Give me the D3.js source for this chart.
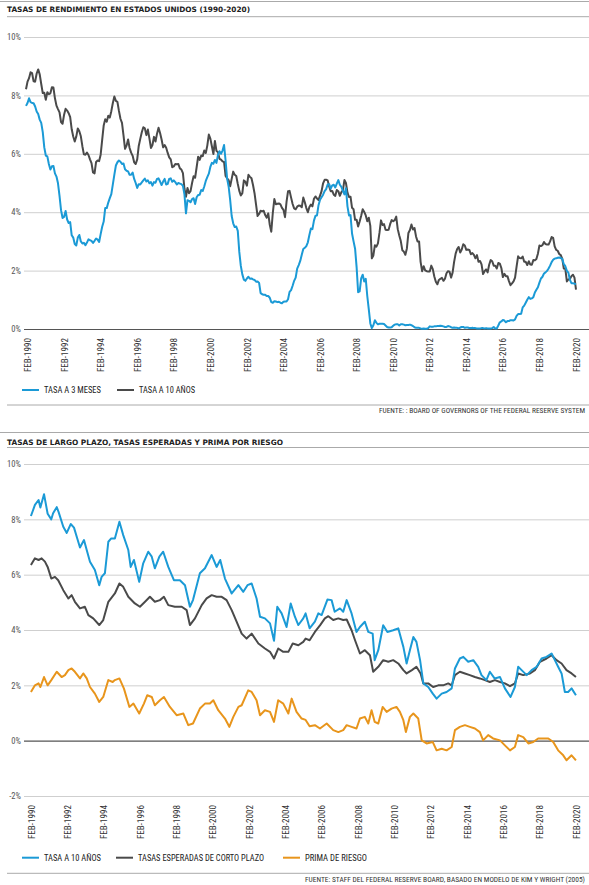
<!DOCTYPE html>
<html><head><meta charset="utf-8">
<script src="https://cdn.jsdelivr.net/npm/d3@7"></script>
<style>
body{margin:0;background:#fff;}
svg text{font-family:"Liberation Sans Narrow","Roboto Condensed","DejaVu Sans Condensed","Arial Narrow",sans-serif;}
</style></head><body>
<svg id="c" width="589" height="885"></svg>
<script>
// ---------- DATA ----------
// Top chart: monthly values from Jan 1990 to Feb 2020
const topStartYear = 1990;
const bill3m = [
7.64,7.74,7.90,7.77,7.74,7.73,7.62,7.45,7.36,7.17,7.06,6.74,
6.22,5.94,5.91,5.65,5.46,5.57,5.58,5.33,5.22,4.99,4.56,4.07,
3.80,3.84,4.04,3.75,3.63,3.66,3.21,3.13,2.91,2.86,3.13,3.22,
3.00,2.93,2.95,2.87,2.96,3.07,3.04,3.02,2.95,3.02,3.10,3.06,
2.98,3.25,3.50,3.68,4.14,4.14,4.33,4.48,4.62,4.95,5.29,5.60,
5.71,5.77,5.73,5.65,5.67,5.47,5.42,5.40,5.28,5.28,5.36,5.14,
5.00,4.83,4.96,4.95,5.02,5.09,5.15,5.05,5.09,4.99,5.03,4.91,
5.03,5.01,5.14,5.16,5.05,4.93,5.05,5.14,4.95,4.97,5.14,5.16,
5.04,5.09,5.03,4.95,5.00,4.98,4.96,4.90,4.61,3.96,4.41,4.39,
4.34,4.45,4.48,4.28,4.51,4.59,4.60,4.76,4.73,4.88,5.07,5.20,
5.32,5.55,5.69,5.66,5.79,5.69,5.96,6.09,6.00,6.11,6.30,5.77,
5.15,4.88,4.42,3.87,3.62,3.49,3.51,3.36,2.64,2.16,1.87,1.69,
1.65,1.73,1.79,1.72,1.73,1.70,1.68,1.62,1.63,1.58,1.23,1.19,
1.17,1.17,1.13,1.13,1.07,0.92,0.90,0.95,0.94,0.92,0.93,0.90,
0.88,0.93,0.94,0.94,1.02,1.27,1.33,1.48,1.65,1.76,2.07,2.19,
2.33,2.54,2.74,2.78,2.84,2.97,3.22,3.44,3.42,3.71,3.88,3.89,
4.24,4.43,4.51,4.60,4.72,4.79,4.95,4.96,4.81,4.92,4.94,4.85,
4.98,5.10,4.94,4.87,4.73,4.61,4.82,4.20,3.89,3.90,3.27,3.00,
2.75,2.12,1.26,1.29,1.73,1.86,1.63,1.72,1.13,0.67,0.19,0.03,
0.13,0.30,0.21,0.16,0.18,0.18,0.18,0.17,0.12,0.07,0.05,0.05,
0.06,0.11,0.15,0.16,0.16,0.12,0.16,0.16,0.15,0.13,0.14,0.14,
0.15,0.13,0.10,0.06,0.04,0.04,0.04,0.02,0.01,0.02,0.01,0.01,
0.03,0.09,0.08,0.08,0.09,0.09,0.10,0.10,0.11,0.10,0.09,0.07,
0.07,0.10,0.09,0.06,0.04,0.05,0.04,0.04,0.02,0.05,0.07,0.07,
0.04,0.05,0.05,0.03,0.03,0.04,0.03,0.03,0.02,0.02,0.02,0.03,
0.03,0.02,0.03,0.02,0.02,0.02,0.03,0.07,0.02,0.02,0.12,0.23,
0.26,0.31,0.29,0.23,0.27,0.27,0.30,0.30,0.29,0.33,0.45,0.51,
0.51,0.52,0.74,0.80,0.90,1.00,1.09,1.03,1.05,1.09,1.25,1.34,
1.43,1.59,1.73,1.79,1.90,1.94,1.99,2.07,2.17,2.29,2.37,2.41,
2.42,2.44,2.45,2.43,2.40,2.22,2.15,1.99,1.93,1.68,1.57,1.57,
1.55,1.54
];
const note10y = [
8.21,8.47,8.59,8.79,8.76,8.48,8.47,8.75,8.89,8.72,8.39,8.08,
8.09,7.85,8.11,8.04,8.07,8.28,8.27,7.90,7.65,7.53,7.42,7.09,
7.03,7.34,7.54,7.48,7.39,7.26,6.84,6.59,6.42,6.59,6.87,6.77,
6.60,6.26,5.98,5.97,6.04,5.96,5.81,5.68,5.36,5.33,5.72,5.77,
5.75,5.97,6.48,6.97,7.18,7.10,7.30,7.24,7.46,7.74,7.96,7.81,
7.78,7.47,7.20,7.06,6.63,6.17,6.28,6.49,6.20,6.04,5.93,5.71,
5.65,5.81,6.27,6.51,6.74,6.91,6.87,6.64,6.83,6.53,6.20,6.30,
6.58,6.42,6.69,6.89,6.71,6.49,6.22,6.30,6.21,6.03,5.88,5.81,
5.54,5.57,5.65,5.64,5.65,5.50,5.46,5.34,4.81,4.53,4.83,4.65,
4.72,5.00,5.23,5.18,5.54,5.90,5.79,5.94,5.92,6.11,6.03,6.28,
6.66,6.52,6.26,5.99,6.44,6.10,6.05,5.83,5.80,5.74,5.72,5.24,
5.16,5.10,4.89,5.14,5.39,5.28,5.24,4.97,4.73,4.57,4.65,5.09,
5.04,4.91,5.28,5.21,5.16,4.93,4.65,4.26,3.87,3.94,4.05,4.03,
4.05,3.90,3.81,3.96,3.57,3.33,3.98,4.45,4.27,4.29,4.30,4.27,
4.15,4.08,3.83,4.35,4.72,4.73,4.50,4.28,4.13,4.10,4.19,4.23,
4.22,4.17,4.50,4.34,4.14,4.00,4.18,4.26,4.20,4.46,4.54,4.47,
4.42,4.57,4.72,4.99,5.11,5.11,5.09,4.88,4.72,4.73,4.60,4.56,
4.76,4.72,4.56,4.69,4.75,5.10,5.00,4.67,4.52,4.53,4.15,4.10,
3.74,3.74,3.51,3.68,3.88,4.10,4.01,3.89,3.69,3.81,3.53,2.42,
2.52,2.87,2.82,2.93,3.29,3.72,3.56,3.59,3.40,3.39,3.40,3.59,
3.73,3.69,3.73,3.85,3.42,3.20,3.01,2.70,2.65,2.54,2.76,3.29,
3.39,3.58,3.41,3.46,3.17,3.00,3.00,2.30,1.98,2.15,2.01,1.98,
1.97,1.97,2.17,2.05,1.80,1.62,1.53,1.68,1.72,1.75,1.65,1.72,
1.91,1.98,1.96,1.76,1.93,2.30,2.58,2.74,2.81,2.62,2.72,2.90,
2.86,2.71,2.72,2.71,2.56,2.60,2.54,2.42,2.53,2.30,2.33,2.21,
1.88,1.98,2.04,1.94,2.20,2.36,2.32,2.17,2.17,2.07,2.26,2.24,
2.09,1.78,1.89,1.81,1.81,1.64,1.50,1.56,1.63,1.76,2.14,2.49,
2.43,2.42,2.48,2.30,2.30,2.19,2.32,2.21,2.20,2.36,2.35,2.40,
2.58,2.86,2.84,2.87,2.98,2.91,2.89,2.89,3.00,3.15,3.12,2.83,
2.71,2.68,2.57,2.53,2.40,2.07,2.06,1.63,1.70,1.71,1.81,1.86,
1.76,1.35
];

// Bottom chart: [decimal year, value]
const kw10y = [[1990.08,8.12],[1990.3,8.52],[1990.5,8.7],[1990.6,8.43],[1990.8,8.91],[1991.0,8.2],[1991.2,8.0],[1991.3,8.22],[1991.5,8.44],[1991.6,8.27],[1991.86,7.73],[1992.05,7.51],[1992.27,7.83],[1992.45,7.7],[1992.63,7.31],[1992.78,6.98],[1993.0,7.25],[1993.15,6.89],[1993.33,6.47],[1993.6,6.17],[1993.84,5.62],[1993.97,5.92],[1994.15,6.05],[1994.34,7.19],[1994.5,7.31],[1994.7,7.31],[1994.95,7.91],[1995.16,7.43],[1995.44,6.89],[1995.57,6.28],[1995.75,6.53],[1996.04,5.74],[1996.26,6.41],[1996.54,6.83],[1996.73,6.65],[1996.9,6.23],[1997.15,6.65],[1997.36,6.83],[1997.64,6.28],[1997.95,5.8],[1998.28,5.8],[1998.56,5.62],[1998.83,4.84],[1999.0,5.08],[1999.38,6.05],[1999.66,6.23],[2000.03,6.71],[2000.3,6.28],[2000.5,6.53],[2000.76,5.86],[2001.13,5.32],[2001.5,5.62],[2001.77,5.38],[2002.0,5.62],[2002.23,5.68],[2002.5,5.14],[2002.69,4.48],[2002.96,4.42],[2003.24,4.24],[2003.46,3.61],[2003.64,4.84],[2003.88,4.6],[2004.15,4.11],[2004.38,4.96],[2004.61,4.48],[2004.8,4.18],[2005.07,4.42],[2005.2,4.6],[2005.42,4.06],[2005.71,4.3],[2005.9,4.6],[2006.08,4.54],[2006.4,5.1],[2006.63,5.08],[2006.8,4.66],[2007.09,4.78],[2007.27,4.66],[2007.46,5.08],[2007.73,4.6],[2008.0,3.93],[2008.19,4.11],[2008.46,4.3],[2008.65,3.93],[2008.89,3.87],[2009.0,2.91],[2009.2,3.27],[2009.47,4.17],[2009.7,3.93],[2010.02,3.99],[2010.3,4.06],[2010.58,3.39],[2010.76,2.79],[2010.94,3.27],[2011.13,3.75],[2011.3,3.57],[2011.5,2.91],[2011.68,2.07],[2011.95,1.94],[2012.2,1.7],[2012.41,1.52],[2012.69,1.7],[2012.96,1.76],[2013.24,1.89],[2013.42,2.61],[2013.69,2.97],[2013.88,3.03],[2014.15,2.85],[2014.43,2.91],[2014.7,2.67],[2014.88,2.37],[2015.15,2.19],[2015.34,2.49],[2015.6,2.25],[2015.9,2.3],[2016.17,1.89],[2016.48,1.58],[2016.72,1.94],[2016.9,2.67],[2017.09,2.55],[2017.37,2.37],[2017.64,2.55],[2017.92,2.67],[2018.19,2.97],[2018.46,3.03],[2018.74,3.15],[2018.92,2.91],[2019.1,2.67],[2019.29,2.43],[2019.47,1.76],[2019.65,1.76],[2019.84,1.89],[2020.08,1.64]];
const kwExpected = [[1990.08,6.35],[1990.3,6.59],[1990.5,6.53],[1990.67,6.59],[1990.85,6.47],[1991.0,6.28],[1991.2,5.86],[1991.4,5.92],[1991.58,5.8],[1991.86,5.44],[1992.14,5.14],[1992.32,5.26],[1992.5,5.02],[1992.78,4.78],[1993.05,4.84],[1993.24,4.54],[1993.51,4.42],[1993.84,4.18],[1994.06,4.36],[1994.34,5.02],[1994.7,5.32],[1994.95,5.68],[1995.16,5.56],[1995.44,5.2],[1995.8,4.96],[1996.08,4.84],[1996.36,5.02],[1996.63,5.2],[1996.9,5.02],[1997.18,5.08],[1997.4,5.2],[1997.64,4.9],[1998.0,4.84],[1998.38,4.84],[1998.65,4.72],[1998.83,4.18],[1999.11,4.42],[1999.48,4.9],[1999.75,5.14],[2000.03,5.26],[2000.3,5.2],[2000.58,5.2],[2000.85,5.08],[2001.13,4.72],[2001.4,4.3],[2001.68,3.87],[2001.95,3.69],[2002.23,3.87],[2002.6,3.51],[2002.96,3.33],[2003.24,3.21],[2003.46,2.97],[2003.69,3.33],[2003.97,3.21],[2004.25,3.21],[2004.49,3.51],[2004.8,3.45],[2005.07,3.57],[2005.2,3.69],[2005.42,3.63],[2005.71,3.93],[2005.99,4.17],[2006.26,4.42],[2006.45,4.5],[2006.72,4.36],[2007.0,4.42],[2007.27,4.36],[2007.46,4.38],[2007.73,3.99],[2007.92,3.63],[2008.19,3.15],[2008.46,3.27],[2008.74,3.09],[2008.92,2.49],[2009.2,2.67],[2009.47,2.91],[2009.75,2.85],[2010.02,2.91],[2010.3,2.79],[2010.58,2.55],[2010.76,2.43],[2011.05,2.55],[2011.3,2.67],[2011.53,2.43],[2011.68,2.07],[2011.95,2.07],[2012.22,1.94],[2012.5,2.0],[2012.77,2.0],[2013.05,2.07],[2013.24,2.0],[2013.42,2.37],[2013.69,2.49],[2013.97,2.43],[2014.24,2.37],[2014.52,2.3],[2014.79,2.25],[2015.07,2.19],[2015.34,2.12],[2015.62,2.19],[2015.9,2.12],[2016.17,2.07],[2016.45,1.97],[2016.72,2.07],[2016.9,2.43],[2017.18,2.37],[2017.55,2.43],[2017.82,2.55],[2018.1,2.85],[2018.46,2.97],[2018.74,3.09],[2019.01,2.91],[2019.29,2.79],[2019.56,2.55],[2019.84,2.43],[2020.08,2.3]];
const kwPremium = [[1990.08,1.76],[1990.3,2.0],[1990.5,2.07],[1990.6,1.94],[1990.8,2.3],[1991.0,2.0],[1991.2,2.19],[1991.5,2.49],[1991.77,2.3],[1991.95,2.37],[1992.14,2.55],[1992.32,2.61],[1992.5,2.49],[1992.78,2.25],[1992.96,2.43],[1993.15,2.25],[1993.33,1.94],[1993.6,1.7],[1993.84,1.4],[1994.06,1.58],[1994.34,2.19],[1994.58,2.12],[1994.7,2.19],[1994.95,2.25],[1995.2,1.88],[1995.5,1.22],[1995.72,1.34],[1996.04,0.98],[1996.3,1.34],[1996.48,1.64],[1996.73,1.58],[1996.9,1.28],[1997.18,1.46],[1997.4,1.58],[1997.73,1.22],[1998.1,0.92],[1998.47,0.98],[1998.74,0.56],[1999.0,0.62],[1999.38,1.16],[1999.66,1.34],[1999.93,1.34],[2000.12,1.46],[2000.39,1.1],[2000.76,0.8],[2001.0,0.5],[2001.22,0.86],[2001.5,1.22],[2001.68,1.28],[2002.04,1.82],[2002.23,1.76],[2002.5,1.46],[2002.69,0.92],[2002.96,1.1],[2003.24,1.04],[2003.46,0.68],[2003.69,1.46],[2003.97,1.34],[2004.25,0.98],[2004.43,1.52],[2004.7,1.04],[2004.98,0.8],[2005.2,0.75],[2005.42,0.52],[2005.71,0.56],[2005.99,0.44],[2006.36,0.62],[2006.72,0.38],[2007.0,0.31],[2007.27,0.38],[2007.46,0.56],[2007.73,0.5],[2008.0,0.44],[2008.19,0.8],[2008.46,0.86],[2008.65,0.62],[2008.83,1.1],[2009.0,0.68],[2009.2,0.62],[2009.44,1.22],[2009.66,1.04],[2009.93,1.16],[2010.2,1.22],[2010.39,1.04],[2010.58,0.74],[2010.72,0.31],[2010.94,0.86],[2011.13,0.98],[2011.4,0.8],[2011.59,0.01],[2011.86,-0.1],[2012.2,-0.05],[2012.41,-0.35],[2012.69,-0.29],[2012.96,-0.35],[2013.24,-0.23],[2013.42,0.38],[2013.69,0.5],[2013.97,0.56],[2014.24,0.5],[2014.52,0.44],[2014.79,0.31],[2014.97,0.01],[2015.25,0.2],[2015.52,0.08],[2015.9,0.01],[2016.17,-0.17],[2016.45,-0.35],[2016.72,-0.23],[2016.9,0.2],[2017.18,0.13],[2017.46,-0.1],[2017.73,-0.05],[2018.0,0.08],[2018.29,0.08],[2018.56,0.08],[2018.83,-0.05],[2019.1,-0.35],[2019.38,-0.53],[2019.56,-0.71],[2019.84,-0.53],[2020.08,-0.71]];

const tickYears = [1990,1992,1994,1996,1998,2000,2002,2004,2006,2008,2010,2012,2014,2016,2018,2020];
const yTicksTop = [0,2,4,6,8,10];
const yTicksBottom = [-2,0,2,4,6,8,10];
const titleTop = "TASAS DE RENDIMIENTO EN ESTADOS UNIDOS (1990-2020)";
const titleBottom = "TASAS DE LARGO PLAZO, TASAS ESPERADAS Y PRIMA POR RIESGO";
const legendTop = ["TASA A 3 MESES","TASA A 10 AÑOS"];
const legendBottom = ["TASA A 10 AÑOS","TASAS ESPERADAS DE CORTO PLAZO","PRIMA DE RIESGO"];
const sourceTop = "FUENTE: : BOARD OF GOVERNORS OF THE FEDERAL RESERVE SYSTEM";
const sourceBottom = "FUENTE: STAFF DEL FEDERAL RESERVE BOARD, BASADO EN MODELO DE KIM Y WRIGHT (2005)";

// ---------- STYLE ----------
const BLUE = "#1b9ad6", DARK = "#4a4a4a", ORANGE = "#e8951c";
const svg = d3.select("#c");
const W = 589;

function rule(y, x0){ svg.append("line").attr("x1",x0).attr("x2",W).attr("y1",y).attr("y2",y).attr("stroke","#aaa").attr("stroke-width",1); }
function title(t, y, len){
  svg.append("text").attr("x",7).attr("y",y).text(t)
    .style("font-family","'DejaVu Sans','Liberation Sans',sans-serif").style("font-weight","bold")
    .attr("font-size",7.4).attr("fill","#222").attr("textLength",len).attr("lengthAdjust","spacingAndGlyphs");
}
function source(t, y, x0){
  svg.append("text").attr("x",x0).attr("y",y).attr("text-anchor","start").text(t)
    .attr("font-size",7.4).attr("fill","#333").attr("textLength",585-x0).attr("lengthAdjust","spacingAndGlyphs");
}

function panel(cfg){
  const {x, y, series, axisY} = cfg;
  const ax = d3.axisLeft(y).tickValues(cfg.yTicks).tickSize(-(W-24)).tickPadding(3).tickFormat(d=>d+"%");
  const g = svg.append("g").attr("transform","translate(24,0)").call(ax);
  g.select(".domain").remove();
  g.selectAll(".tick line").attr("stroke", d=> d===0 ? "#555" : "#cfcfcf").attr("stroke-width", d=> d===0?1.2:1);
  g.selectAll(".tick text").attr("font-size",8.6).attr("fill","#555").attr("x",-3);
  const xa = d3.axisBottom(x).tickValues(tickYears.map(v=>v+1/12)).tickSize(0).tickFormat(d=>"FEB-"+Math.round(d-1/12));
  const gx = svg.append("g").attr("transform",`translate(0,${axisY})`).call(xa);
  gx.select(".domain").remove();
  gx.selectAll(".tick text").attr("transform","rotate(-90)").attr("text-anchor","end")
    .attr("x",0).attr("y",0).attr("dy","0.35em").attr("font-size",8.8).attr("fill","#333")
    .attr("textLength",34).attr("lengthAdjust","spacingAndGlyphs");
  series.forEach(s=>{
    const line = d3.line().x(d=>x(d[0])).y(d=>y(d[1])).curve(d3.curveLinear);
    svg.append("path").datum(s.data).attr("d",line).attr("fill","none")
      .attr("stroke",s.color).attr("stroke-width",2).attr("stroke-linejoin","round");
  });
}

// ---------- TOP PANEL ----------
rule(1.5, 0);
title(titleTop, 12.4, 243);
rule(16.7, 7);
const xTop = d3.scaleLinear().domain([1990, 2020+1/12]).range([26, 576]);
const yTop = d3.scaleLinear().domain([0,10]).range([329, 37]);
const toPairs = arr => arr.map((v,i)=>[topStartYear + i/12, v]);
panel({x:xTop, y:yTop, yTicks:yTicksTop, axisY:338,
  series:[{data:toPairs(note10y), color:DARK},{data:toPairs(bill3m), color:BLUE}]});

function legend(items, y){
  items.forEach(it=>{
    svg.append("line").attr("x1",it.x).attr("x2",it.x+17).attr("y1",y).attr("y2",y).attr("stroke",it.color).attr("stroke-width",2);
    svg.append("text").attr("x",it.x+22).attr("y",y+3.2).text(it.label).attr("font-size",8.6).attr("fill","#222")
      .attr("textLength",it.len).attr("lengthAdjust","spacingAndGlyphs");
  });
}
legend([{x:22,color:BLUE,label:legendTop[0],len:57},{x:117,color:DARK,label:legendTop[1],len:56}], 390);
rule(405, 7);
source(sourceTop, 412.6, 379);

// ---------- BOTTOM PANEL ----------
rule(432.5, 0);
title(titleBottom, 445.2, 276);
rule(447.5, 7);
const xBot = d3.scaleLinear().domain([1990+1/12, 2020+1/12]).range([31, 576]);
const yBot = d3.scaleLinear().domain([-2,10]).range([796, 464]);
panel({x:xBot, y:yBot, yTicks:yTicksBottom, axisY:805,
  series:[{data:kwPremium, color:ORANGE},{data:kwExpected, color:DARK},{data:kw10y, color:BLUE}]});
legend([{x:22,color:BLUE,label:legendBottom[0],len:57},{x:116,color:DARK,label:legendBottom[1],len:126},{x:283,color:ORANGE,label:legendBottom[2],len:62}], 857.7);
rule(873.3, 7);
source(sourceBottom, 882, 305);
</script>
</body></html>
